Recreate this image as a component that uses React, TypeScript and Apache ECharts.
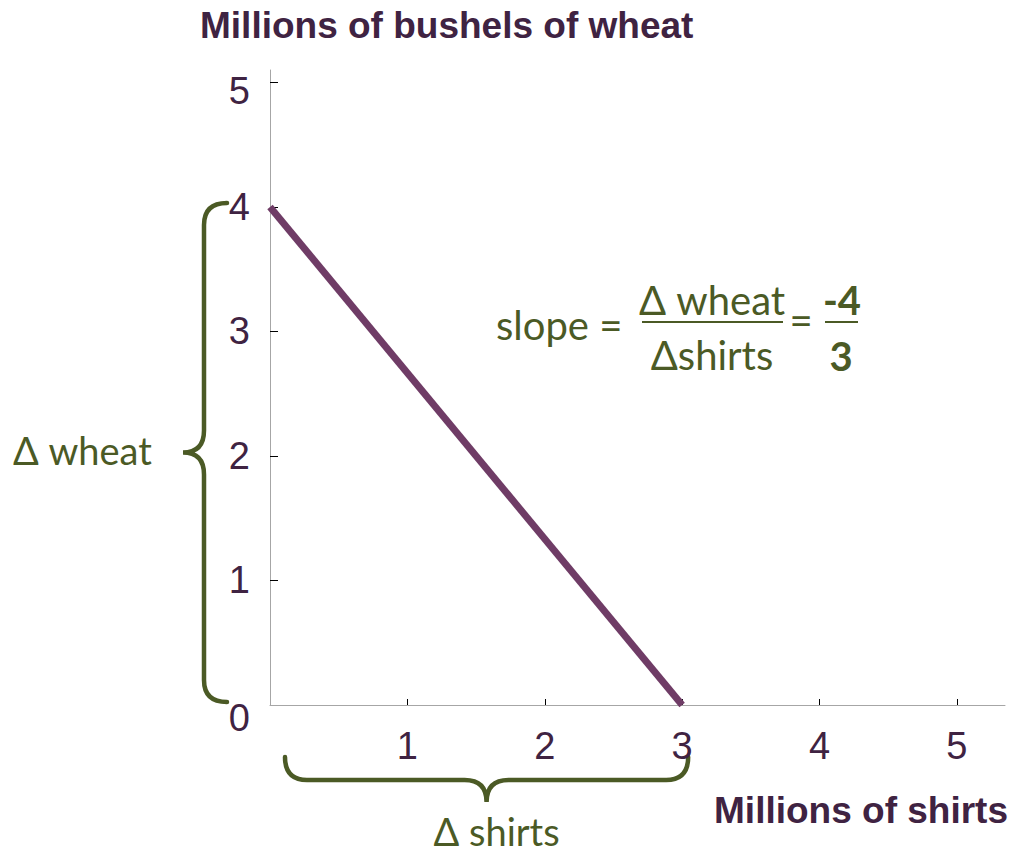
import React, { useEffect, useRef } from "react";
import * as echarts from "echarts";

// Data
const shirts = [0, 3];
const wheat = [4, 0];
const xTickValues = [1, 2, 3, 4, 5];
const yTickValues = [0, 1, 2, 3, 4, 5];
const xTitle = "Millions of shirts";
const yTitle = "Millions of bushels of wheat";
const wheatBraceLabel = "Δ wheat";
const shirtsBraceLabel = "Δ shirts";
const slopeLabel = "slope =";
const slopeNumText = "Δ wheat";
const slopeDenText = "Δshirts";
const slopeNum = "-4";
const slopeDen = "3";

const PURPLE_TEXT = "#3f2342";
const PURPLE_LINE = "#6f3c66";
const GREEN = "#4b5a25";
const AXIS_GRAY = "#a6a6a6";
const GREEN_FONT = "Lato, 'Open Sans', sans-serif";
const MAIN_FONT = "'Liberation Sans', Arial, sans-serif";

export default function App() {
  const ref = useRef<HTMLDivElement>(null);
  useEffect(() => {
    if (!ref.current) return;
    const chart = echarts.init(ref.current, null, { renderer: "svg" });
    const lineData = shirts.map((s, i) => [s, wheat[i]]);
    const digitStyle = { fontSize: 38, fontFamily: MAIN_FONT, color: PURPLE_TEXT };
    chart.setOption({
      animation: false,
      grid: { left: 270, top: 70, right: 7, bottom: 148 },
      xAxis: {
        type: "value",
        min: 0,
        max: 5.35,
        axisLine: { show: true, lineStyle: { color: AXIS_GRAY, width: 1 } },
        axisTick: {
          show: true,
          inside: true,
          length: 6,
          customValues: xTickValues,
          lineStyle: { color: "#000", width: 1 },
        },
        axisLabel: {
          customValues: xTickValues,
          margin: 22,
          ...digitStyle,
        },
        splitLine: { show: false },
      },
      yAxis: {
        type: "value",
        min: 0,
        max: 5.1,
        axisLine: { show: true, lineStyle: { color: AXIS_GRAY, width: 1 } },
        axisTick: {
          show: true,
          inside: true,
          length: 8,
          customValues: [1, 2, 3, 4, 5],
          lineStyle: { color: "#000", width: 1 },
        },
        axisLabel: {
          customValues: yTickValues,
          margin: 20,
          ...digitStyle,
          formatter: (v: number) =>
            v === 0 ? `{low|${v}}` : v === 5 ? `{mid|${v}}` : `${v}`,
          rich: {
            low: { ...digitStyle, padding: [26, 0, 0, 0] },
            mid: { ...digitStyle, padding: [18, 0, 0, 0] },
          },
        },
        splitLine: { show: false },
      },
      series: [
        {
          type: "line",
          data: lineData,
          symbol: "none",
          lineStyle: { color: PURPLE_LINE, width: 7 },
        },
      ],
    });

    // Braces computed from data positions
    const p40 = chart.convertToPixel({ gridIndex: 0 }, [0, wheat[0]]) as number[];
    const p00 = chart.convertToPixel({ gridIndex: 0 }, [0, 0]) as number[];
    const p30 = chart.convertToPixel({ gridIndex: 0 }, [shirts[1], 0]) as number[];

    const r = 22;
    // left vertical brace
    const yT = p40[1] - 4;
    const yB = p00[1] - 3;
    const yM = (yT + yB) / 2;
    const xV = p00[0] - 66;
    const xEnd = p00[0] - 43;
    const xTip = p00[0] - 87;
    const dLeft = `M ${xEnd} ${yT} Q ${xV} ${yT} ${xV} ${yT + r} L ${xV} ${yM - r} Q ${xV} ${yM} ${xTip} ${yM} Q ${xV} ${yM} ${xV} ${yM + r} L ${xV} ${yB - r} Q ${xV} ${yB} ${xEnd} ${yB}`;

    // bottom horizontal brace
    const xL = p00[0] + 15;
    const xR = p30[0] + 6;
    const xM = (xL + xR) / 2;
    const yEnd = p00[1] + 52;
    const yH = p00[1] + 75;
    const yTip = p00[1] + 97;
    const dBottom = `M ${xL} ${yEnd} Q ${xL} ${yH} ${xL + r} ${yH} L ${xM - r} ${yH} Q ${xM} ${yH} ${xM} ${yTip} Q ${xM} ${yH} ${xM + r} ${yH} L ${xR - r} ${yH} Q ${xR} ${yH} ${xR} ${yEnd}`;

    echarts.graphic.registerShape("braceLeft", echarts.graphic.extendPath(dLeft, {}) as any);
    echarts.graphic.registerShape("braceBottom", echarts.graphic.extendPath(dBottom, {}) as any);

    const braceStyle = { stroke: GREEN, lineWidth: 4.5, fill: "none", lineCap: "round" };

    chart.setOption({
      graphic: [
        { type: "braceLeft", x: 0, y: 0, style: braceStyle, silent: true },
        { type: "braceBottom", x: 0, y: 0, style: braceStyle, silent: true },
        {
          type: "text",
          x: 13,
          y: yM - 2,
          style: {
            text: wheatBraceLabel,
            fill: GREEN,
            font: `38px ${GREEN_FONT}`,
            textAlign: "left",
            textVerticalAlign: "middle",
          },
        },
        {
          type: "text",
          x: xM + 10,
          y: 831,
          style: {
            text: shirtsBraceLabel,
            fill: GREEN,
            font: `38px ${GREEN_FONT}`,
            textAlign: "center",
            textVerticalAlign: "middle",
          },
        },
        {
          type: "text",
          x: 200,
          y: 25,
          style: {
            text: yTitle,
            fill: PURPLE_TEXT,
            font: `bold 37px ${MAIN_FONT}`,
            textAlign: "left",
            textVerticalAlign: "middle",
          },
        },
        {
          type: "text",
          x: 1008,
          y: 810,
          style: {
            text: xTitle,
            fill: PURPLE_TEXT,
            font: `bold 37px ${MAIN_FONT}`,
            textAlign: "right",
            textVerticalAlign: "middle",
          },
        },
        // slope formula
        {
          type: "text",
          x: 496,
          y: 325,
          style: {
            text: slopeLabel,
            fill: GREEN,
            font: `40px ${GREEN_FONT}`,
            textAlign: "left",
            textVerticalAlign: "middle",
          },
        },
        {
          type: "text",
          x: 712,
          y: 300,
          style: {
            text: slopeNumText,
            fill: GREEN,
            font: `40px ${GREEN_FONT}`,
            textAlign: "center",
            textVerticalAlign: "middle",
          },
        },
        {
          type: "line",
          shape: { x1: 642, y1: 322, x2: 783, y2: 322 },
          style: { stroke: GREEN, lineWidth: 2 },
        },
        {
          type: "text",
          x: 712,
          y: 355,
          style: {
            text: slopeDenText,
            fill: GREEN,
            font: `40px ${GREEN_FONT}`,
            textAlign: "center",
            textVerticalAlign: "middle",
          },
        },
        {
          type: "text",
          x: 801,
          y: 320,
          style: {
            text: "=",
            fill: GREEN,
            font: `40px ${GREEN_FONT}`,
            textAlign: "center",
            textVerticalAlign: "middle",
          },
        },
        {
          type: "text",
          x: 842,
          y: 300,
          style: {
            text: slopeNum,
            fill: GREEN,
            font: `bold 40px ${GREEN_FONT}`,
            textAlign: "center",
            textVerticalAlign: "middle",
          },
        },
        {
          type: "line",
          shape: { x1: 825, y1: 322, x2: 858, y2: 322 },
          style: { stroke: GREEN, lineWidth: 2 },
        },
        {
          type: "text",
          x: 841,
          y: 356,
          style: {
            text: slopeDen,
            fill: GREEN,
            font: `bold 40px ${GREEN_FONT}`,
            textAlign: "center",
            textVerticalAlign: "middle",
          },
        },
      ],
    });

    return () => chart.dispose();
  }, []);
  return (
    <div
      ref={ref}
      style={{ position: "fixed", left: 0, top: 0, width: 1012, height: 853, background: "#fff" }}
    />
  );
}
